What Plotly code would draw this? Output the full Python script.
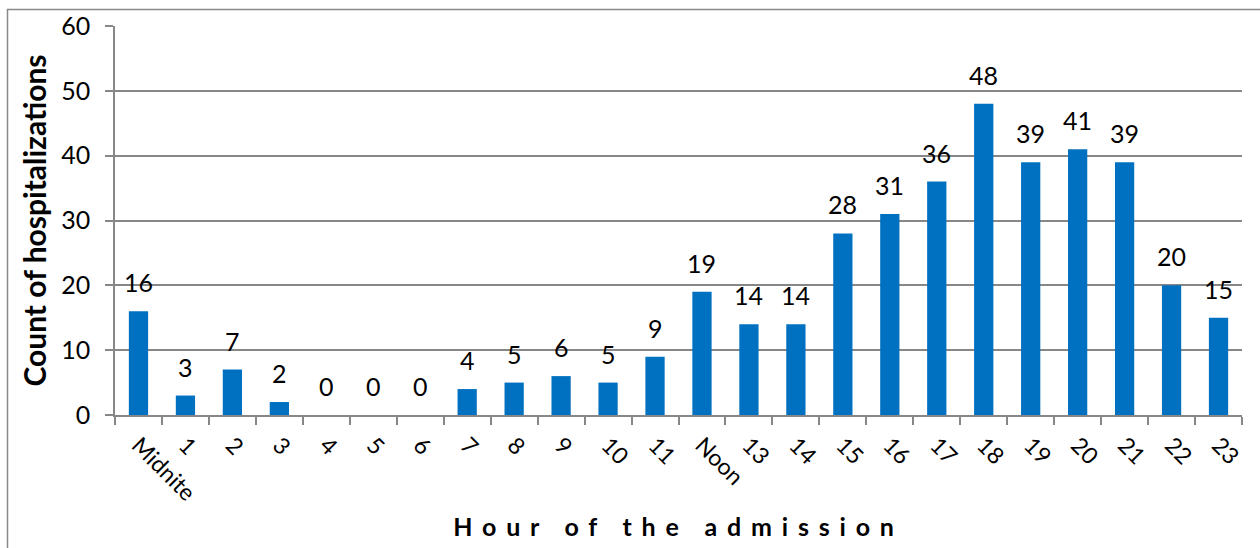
import plotly.graph_objects as go

# Hourly admission counts
hours = ["Midnite", "1", "2", "3", "4", "5", "6", "7", "8", "9", "10", "11",
         "Noon", "13", "14", "15", "16", "17", "18", "19", "20", "21", "22", "23"]
counts = [16, 3, 7, 2, 0, 0, 0, 4, 5, 6, 5, 9,
          19, 14, 14, 28, 31, 36, 48, 39, 41, 39, 20, 15]
y_ticks = [0, 10, 20, 30, 40, 50, 60]

W, H = 1260, 548
L, R, T, B = 115, 18, 26, 133
FONT = "Lato, 'Open Sans', sans-serif"
GRID = "#878787"

fig = go.Figure()
fig.add_trace(go.Bar(
    x=hours, y=counts,
    marker=dict(color="#0070C0", line=dict(width=0)),
    width=0.41,
    hoverinfo="x+y",
))

# value labels above each bar
for h, c in zip(hours, counts):
    fig.add_annotation(x=h, y=c, text=str(c), showarrow=False,
                       xref="x", yref="y", yanchor="middle", yshift=29,
                       font=dict(family=FONT, size=25, color="#000000"))

# outer chart frame
pw, ph = W - L - R, H - T - B
fig.add_shape(type="rect", xref="paper", yref="paper",
              x0=(7.5 - L) / pw, x1=(W + 5 - L) / pw,
              y0=-(H + 5 - T - ph) / ph, y1=1 + (T - 9.5) / ph,
              line=dict(color="#888888", width=1.5), fillcolor="rgba(0,0,0,0)",
              layer="below")

fig.update_layout(
    width=W, height=H,
    margin=dict(l=L, r=R, t=T, b=B, autoexpand=False),
    paper_bgcolor="white", plot_bgcolor="white",
    showlegend=False,
    font=dict(family=FONT, size=24, color="#000000"),
    xaxis=dict(
        type="category",
        automargin=False,
        tickson="boundaries",
        ticks="outside", ticklen=8, tickwidth=1.5, tickcolor=GRID,
        showline=True, linecolor=GRID, linewidth=1.5,
        tickangle=45,
        ticklabelstandoff=6,
        tickfont=dict(family=FONT, size=23),
        showgrid=False,
        title=dict(
            text="<b><span style='letter-spacing:9.8px'>Hour of the admission</span></b>",
            font=dict(family=FONT, size=25),
            standoff=14,
        ),
    ),
    yaxis=dict(
        range=[0, 60],
        automargin=False,
        tickvals=y_ticks,
        ticks="outside", ticklen=8, tickwidth=1.5, tickcolor=GRID,
        ticklabelstandoff=10,
        showline=True, linecolor=GRID, linewidth=1.5,
        showgrid=True, gridcolor=GRID, gridwidth=1.5,
        zeroline=False,
        tickfont=dict(family=FONT, size=25),
        title=dict(text="<b>Count of hospitalizations</b>",
                   font=dict(family=FONT, size=30), standoff=6),
    ),
)

fig.write_html("out.html")
